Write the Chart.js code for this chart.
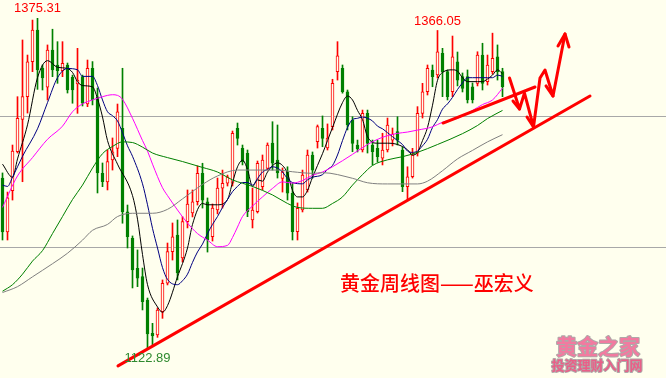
<!DOCTYPE html>
<html>
<head>
<meta charset="utf-8">
<style>
  html, body { margin: 0; padding: 0; background: #ffffee; }
  #wrap { width: 666px; height: 378px; position: relative; }
</style>
<script src="https://cdn.jsdelivr.net/npm/chart.js@4/dist/chart.umd.min.js"></script>
</head>
<body>
<div id="wrap"><canvas id="c" width="666" height="378"></canvas></div>
<script>
// Weekly gold candles (USD/oz), oldest first
const opens = [
  1253.4,1212.2,1243.7,1273.5,1298.2,1315.5,1342.2,1366.4,1337.4,1322.7,
  1351.1,1339.7,1335.3,1339.7,1330.3,1325.2,1330.8,1309.9,1337.2,1315.3,
  1257.0,1250.4,1267.2,1276.1,1291.4,1227.7,1207.4,1184.5,1178.1,1160.3,
  1134.9,1133.6,1151.4,1173.1,1197.2,1209.9,1192.4,1220.1,1226.7,1235.3,
  1257.0,1235.3,1208.6,1229.0,1245.6,1249.4,1249.4,1291.4,1276.1,1272.3,
  1221.4,1227.7,1246.8,1260.8,1280.0,1267.2,1253.2,1258.2,1241.8,1212.4,
  1229.0,1244.3,1271.0,1281.1,1291.4,1276.3,1292.6,1334.6,1337.2,1319.3,
  1297.7,1278.6,1274.8,1302.8,1278.6,1276.1,1268.5,1274.8,1282.4,1288.8,
  1274.8,1246.8,1254.4,1272.3,1302.8,1319.3,1335.9,1332.1,1348.6,1334.6,
  1319.3,1342.2,1330.8,1330.8,1323.1,1325.7,1347.3,1326.9,1334.6,1346.0,
  1334.6
];
const highs = [
  1257.3,1242.7,1278.6,1315.5,1358.8,1347.3,1374.0,1375.31,1339.7,1355.0,
  1367.0,1357.5,1357.5,1341.2,1332.0,1352.4,1332.0,1343.5,1342.3,1322.1,
  1264.9,1274.8,1284.0,1309.9,1337.2,1232.8,1209.2,1198.5,1184.7,1161.8,
  1142.5,1154.2,1175.6,1203.8,1219.1,1221.4,1223.9,1244.3,1244.3,1262.6,
  1264.7,1238.2,1233.6,1253.4,1259.5,1255.7,1289.3,1295.4,1278.6,1274.8,
  1245.8,1266.4,1271.0,1280.2,1296.4,1293.9,1261.1,1262.0,1249.4,1234.4,
  1259.5,1274.8,1273.3,1293.9,1300.8,1294.7,1328.8,1357.5,1339.7,1320.6,
  1300.2,1282.4,1305.3,1305.3,1282.4,1282.4,1287.6,1299.2,1291.6,1300.2,
  1277.1,1262.0,1276.1,1307.9,1325.7,1339.7,1339.7,1366.05,1352.4,1335.9,
  1361.8,1349.6,1333.6,1335.9,1326.0,1349.8,1356.3,1347.3,1364.0,1355.0,
  1337.2
];
const lows = [
  1206.1,1206.1,1236.6,1272.5,1250.6,1303.0,1334.6,1321.1,1320.6,1313.0,
  1330.8,1325.7,1330.8,1318.3,1310.5,1302.8,1308.4,1307.9,1309.2,1242.0,
  1246.8,1244.3,1259.5,1269.7,1218.9,1200.0,1169.5,1170.5,1152.7,1122.89,
  1124.6,1131.8,1146.3,1171.8,1190.8,1175.6,1189.3,1215.3,1223.7,1232.8,
  1230.5,1196.9,1205.3,1226.0,1230.5,1247.3,1247.3,1278.6,1263.4,1223.9,
  1215.3,1226.7,1244.3,1259.5,1259.5,1253.4,1242.7,1236.6,1206.1,1206.1,
  1227.5,1242.7,1253.4,1276.3,1277.3,1274.8,1290.1,1328.2,1318.2,1290.1,
  1273.5,1273.3,1273.3,1272.5,1263.4,1265.6,1263.4,1273.3,1277.9,1278.6,
  1243.0,1236.6,1253.4,1270.2,1299.2,1316.8,1323.1,1329.8,1315.5,1313.0,
  1315.5,1323.7,1319.1,1310.7,1310.7,1323.7,1320.6,1324.4,1332.8,1328.2,
  1315.5
];
const closes = [
  1212.2,1238.2,1274.0,1299.0,1315.5,1342.2,1366.4,1335.9,1329.8,1351.1,
  1335.9,1335.3,1341.0,1320.6,1320.6,1328.2,1310.5,1337.2,1313.0,1257.3,
  1250.6,1265.9,1273.5,1304.0,1227.7,1208.6,1183.2,1176.9,1159.0,1134.4,
  1132.8,1152.7,1173.1,1197.2,1208.6,1180.9,1220.1,1233.6,1235.3,1257.0,
  1236.6,1206.1,1230.5,1245.8,1249.4,1254.4,1287.6,1283.7,1265.9,1227.7,
  1229.0,1264.7,1267.2,1278.6,1264.7,1257.3,1258.2,1241.8,1212.4,1230.3,
  1255.7,1271.0,1259.5,1292.6,1283.7,1284.0,1325.7,1346.6,1319.3,1293.9,
  1279.9,1275.6,1302.8,1279.9,1273.5,1269.7,1274.8,1293.9,1287.0,1282.4,
  1246.8,1254.4,1271.0,1302.8,1319.3,1337.2,1330.8,1349.8,1334.6,1315.5,
  1346.0,1328.2,1321.9,1313.0,1313.0,1347.3,1325.7,1339.7,1344.8,1334.6,
  1323.1
];

// Moving averages, sampled at these week numbers
const ma5Weeks = [0,2,3,5,7,9,11,13,14,15,16,18,19,20,21,23,26,27,28,29,31,32,33,35,37,38,40,41,43,45,46,47,48,49,50,51,52,53,55,56,57,58,59,60,61,62,64,65,66,68,69,70,71,72,73,75,77,79,81,82,83,84,85,86,87,88,90,91,92,93,95,96,97,98,99,100];
const ma5Values = [1264,1254,1268,1294,1330,1343,1338,1337,1334,1327,1324,1323,1314,1300,1282,1264,1240,1222,1195,1172,1155,1151,1156,1178,1200,1218,1234,1233,1233,1237,1250,1262,1267,1260,1247,1252,1251,1258,1265,1263,1257,1244,1239,1239,1244,1254,1272,1282,1292,1311,1316,1313,1305,1298,1285,1280,1280,1279,1275,1271,1273,1282,1292,1309,1328,1334,1336,1335,1330,1327,1327,1327,1329,1332,1336,1333];

const ma10Weeks = [0,1,2,4,7,9,11,13,15,16,18,19,20,21,22,23,24,25,26,28,29,30,31,32,33,35,36,37,38,39,40,41,42,43,44,45,46,47,48,49,50,51,52,53,54,55,56,57,58,60,61,62,64,65,66,67,68,69,70,71,72,73,74,75,76,77,78,79,80,81,82,83,84,85,86,87,88,89,90,91,92,93,94,96,97,98,99,100];
const ma10Values = [1248,1247,1254,1270,1291,1311,1330,1337,1336,1331,1331,1324,1313,1304,1301,1297,1288,1278,1270,1249,1233,1215,1200,1185,1176,1172,1175,1180,1189,1197,1203,1211,1218,1224,1231,1237,1243,1247,1250,1250,1248,1253,1258,1260,1262,1261,1258,1253,1250,1249,1252,1254,1256,1260,1263,1271,1282,1292,1298,1299,1300,1299,1297,1293,1291,1288,1285,1282,1279,1274,1273,1274,1278,1283,1292,1298,1306,1310,1315,1321,1326,1330,1330,1330,1330,1330,1332,1331];

const ma20Weeks = [0,3,6,9,12,14,16,18,20,22,23,24,26,28,29,30,32,33,35,37,39,41,43,45,46,47,48,50,52,54,56,58,60,62,64,66,70,73,76,79,81,83,86,88,91,94,96,98,100];
const ma20Values = [1231,1255,1269,1283,1293,1304,1310,1313,1315.5,1317,1316.5,1313.5,1299,1282,1274,1264,1246,1240,1229,1219,1211,1206,1201,1202,1208,1216,1224,1232,1239,1245.5,1250.5,1249.5,1251.5,1255.5,1258,1262,1271.5,1279,1284.5,1287.5,1288.5,1290,1292.5,1296,1299,1305,1309.5,1313,1322];

const ma40Weeks = [0,2,4,6,8,10,12,14,16,18,20,22,24,26,28,30,33,36,40,43,46,50,54,57,59,62,64,66,68,70,72,74,77,80,83,87,92,95,97,100];
const ma40Values = [1167,1172,1180,1190,1198,1211,1224,1237,1248,1261,1272,1277.5,1281,1280.5,1277,1272.5,1269,1266,1261.5,1258,1252,1247,1240.5,1234,1231,1230.3,1230.3,1234,1239,1248,1256,1263,1267.3,1269.7,1273,1279,1287.3,1293.5,1298.8,1305];

const ma60Weeks = [0,3,6,10,13,16,18,21,23,26,30,33,36,40,43,47,55,58,62,64,70,73,77,83,85,88,91,94,97,100];
const ma60Values = [1166,1170.5,1178,1188,1196,1206,1213.5,1218,1224,1226.5,1226.5,1229.5,1237.5,1248.5,1255,1259.5,1259.5,1258.2,1257,1257.5,1253.2,1249.8,1248.9,1248.9,1251,1259,1268,1274.5,1281,1286.5];

// Hand-drawn analysis strokes, in (week, price)
const supportWeeks = [23.1, 117.5];
const supportPrices = [1110, 1316];
const shortLineWeeks = [88.1, 106.5];
const shortLinePrices = [1295.4, 1322.9];
const pathWeeks = [101.4, 103.4, 104.4, 106.2, 107.5, 108.5, 110.1, 112.5];
const pathPrices = [1329.8, 1306.1, 1318.3, 1292.4, 1329.8, 1335.9, 1316.0, 1363.4];
const headWeeks = [[102.1, 103.4], [104.9, 106.2], [108.7, 110.1], [111.1, 112.5, 113.3]];
const headPrices = [[1312.2, 1306.1], [1300, 1292.4], [1323.7, 1316.0], [1354.2, 1363.4, 1353.4]];

// Price levels with a dotted guide line, and candles whose extremes are labelled
const guideLevels = [1200, 1300];
const highMarkWeeks = [7, 87];
const lowMarkWeeks = [29];

const titleText = '黄金周线图——巫宏义';
const brandText = '黄金之家';
const brandSubText = '投资理财入门网';

const BG = '#ffffee';
const UP = '#ff0000';
const DOWN = '#008000';

const weeks = opens.map((_, i) => i);
const isUp = weeks.map(i => closes[i] >= opens[i]);
const pts = (xs, ys) => xs.map((x, k) => ({ x, y: ys[k] }));

const maLine = (label, xs, ys, color) => ({
  type: 'line', label, data: pts(xs, ys),
  borderColor: color, borderWidth: 1, pointRadius: 0,
  cubicInterpolationMode: 'monotone', fill: false, order: 2
});
const stroke = (xs, ys) => ({
  type: 'line', data: pts(xs, ys),
  borderColor: '#ff0000', borderWidth: 3, pointRadius: 0, tension: 0,
  borderCapStyle: 'round', borderJoinStyle: 'round', fill: false, order: 1, clip: false
});

const datasets = [
  {
    type: 'bar', label: 'range',
    data: weeks.map(i => ({ x: i, y: [lows[i], highs[i]] })),
    backgroundColor: weeks.map(i => isUp[i] ? UP : DOWN),
    borderWidth: 0, barThickness: 1, grouped: false, order: 4
  },
  {
    type: 'bar', label: 'body',
    data: weeks.map(i => ({ x: i, y: [opens[i], closes[i]] })),
    backgroundColor: weeks.map(i => isUp[i] ? BG : DOWN),
    borderColor: weeks.map(i => isUp[i] ? UP : DOWN),
    borderWidth: 1, borderSkipped: false, barThickness: 3,
    minBarLength: 1, grouped: false, order: 3
  },
  maLine('MA60', ma60Weeks, ma60Values, '#808080'),
  maLine('MA40', ma40Weeks, ma40Values, '#008000'),
  maLine('MA20', ma20Weeks, ma20Values, '#ff00ff'),
  maLine('MA10', ma10Weeks, ma10Values, '#000080'),
  maLine('MA5', ma5Weeks, ma5Values, '#000000'),
  stroke(supportWeeks, supportPrices),
  stroke(shortLineWeeks, shortLinePrices),
  stroke(pathWeeks, pathPrices),
  ...headWeeks.map((xs, k) => stroke(xs, headPrices[k]))
];

const background = {
  id: 'background',
  beforeDraw(chart) {
    const { ctx, width, height } = chart;
    ctx.save();
    ctx.fillStyle = BG;
    ctx.fillRect(0, 0, width, height);
    ctx.restore();
  }
};

const annotations = {
  id: 'annotations',
  afterDatasetsDraw(chart) {
    const { ctx, scales: { x, y } } = chart;
    ctx.save();
    ctx.font = '13px "Liberation Sans", Arial, sans-serif';
    ctx.textAlign = 'center';
    ctx.fillStyle = '#ff0000';
    ctx.textBaseline = 'bottom';
    highMarkWeeks.forEach(i => {
      ctx.fillText(highs[i].toFixed(2), x.getPixelForValue(i), y.getPixelForValue(highs[i]) - 3);
    });
    ctx.fillStyle = '#2f8a2f';
    ctx.textBaseline = 'top';
    lowMarkWeeks.forEach(i => {
      ctx.fillText(lows[i].toFixed(2), x.getPixelForValue(i), y.getPixelForValue(lows[i]) + 3);
    });

    // title
    ctx.font = '500 20px "Noto Sans CJK SC", sans-serif';
    ctx.textAlign = 'left';
    ctx.textBaseline = 'alphabetic';
    ctx.fillStyle = '#ff0000';
    ctx.fillText(titleText, 340, 291);

    // site mark, bottom right
    ctx.textAlign = 'center';
    ctx.textBaseline = 'middle';
    ctx.lineJoin = 'round';
    ctx.font = 'bold 21px "Noto Sans CJK SC", sans-serif';
    ctx.strokeStyle = '#b0a8a8';
    ctx.lineWidth = 2;
    ctx.strokeText(brandText, 598, 346);
    ctx.fillStyle = '#f27aa0';
    ctx.fillText(brandText, 598, 346);
    ctx.font = 'bold 13px "Noto Sans CJK SC", sans-serif';
    ctx.strokeText(brandSubText, 597, 365);
    ctx.fillStyle = '#ea5f88';
    ctx.fillText(brandSubText, 597, 365);
    ctx.restore();
  }
};

new Chart(document.getElementById('c'), {
  type: 'bar',
  data: { datasets },
  options: {
    responsive: false,
    devicePixelRatio: 1,
    animation: false,
    layout: { padding: 0 },
    plugins: { legend: { display: false }, tooltip: { enabled: false } },
    scales: {
      x: {
        type: 'linear', min: -0.5, max: 132.7, offset: false, display: false
      },
      y: {
        type: 'linear', min: 1100.76, max: 1389.31, beginAtZero: false,
        display: true,
        afterBuildTicks: s => { s.ticks = guideLevels.map(v => ({ value: v })); },
        ticks: { display: false },
        border: { display: false },
        grid: { drawTicks: false, color: '#a8a8a8', lineWidth: 1, borderDash: [1, 1] }
      }
    }
  },
  plugins: [background, annotations]
});
</script>
</body>
</html>
